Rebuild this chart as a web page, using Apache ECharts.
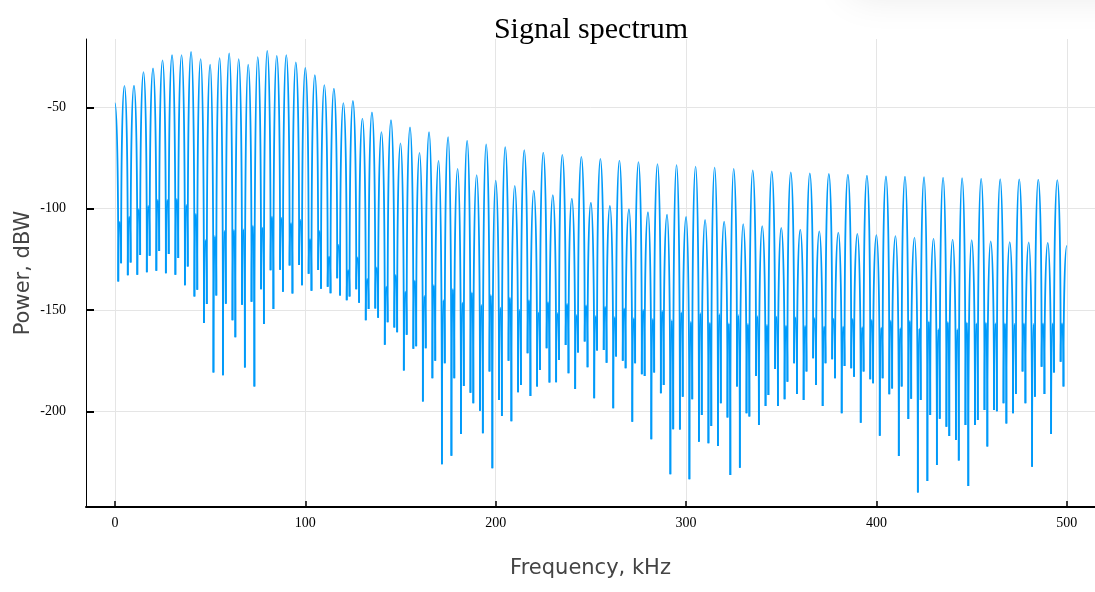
<!DOCTYPE html>
<html>
<head>
<meta charset="utf-8">
<title>Signal spectrum</title>
<script src="https://cdn.jsdelivr.net/npm/echarts@6/dist/echarts.min.js"></script>
<style>
html, body { margin: 0; padding: 0; background: #fff; }
#main { width: 1095px; height: 592px; }
</style>
</head>
<body>
<div id="main"></div>
<script>
// tops of the main lobes, one every 5 kHz from 0 to 500 kHz (dBW)
var peakDb = [
	-48.0, -39.5, -39.3, -32.7, -30.8, -26.8, -24.3, -24.3, -22.7, -26.2,
	-29.0, -25.8, -23.4, -26.3, -29.0, -25.2, -22.2, -24.6, -24.3, -27.8,
	-30.6, -34.1, -39.1, -40.8, -47.9, -46.9, -55.6, -52.5, -62.2, -56.3,
	-67.8, -59.9, -72.5, -62.3, -76.5, -64.7, -80.4, -66.5, -83.5, -68.3,
	-86.2, -69.7, -88.8, -71.2, -91.1, -72.4, -93.3, -73.5, -95.1, -74.5,
	-97.1, -75.5, -98.7, -76.3, -100.2, -77.0, -101.7, -78.0, -103.0, -78.6,
	-104.1, -79.3, -105.5, -79.8, -106.4, -80.4, -107.6, -81.1, -108.6, -81.6,
	-109.5, -82.1, -110.4, -82.6, -111.2, -82.9, -111.9, -83.2, -112.5, -83.7,
	-113.1, -84.1, -113.6, -84.2, -114.3, -84.5, -114.8, -84.7, -115.3, -85.0,
	-115.6, -85.2, -116.1, -85.4, -116.5, -85.6, -116.6, -85.7, -116.9, -85.9,
	-118.4
];

// between lobe k and lobe k+1: first null, small side lobe, second null
var null1Db = [
	-136.0, -132.9, -132.6, -131.4, -130.6, -131.9, -132.6, -137.8, -143.3, -156.4,
	-180.9, -182.2, -155.1, -147.4, -145.9, -139.8, -130.4, -130.1, -128.1, -127.8,
	-132.1, -130.3, -138.5, -134.4, -145.2, -139.8, -155.1, -149.3, -167.1, -158.7,
	-179.8, -169.1, -195.2, -183.7, -226.1, -221.9, -211.2, -190.8, -199.7, -180.4,
	-194.4, -175.0, -190.6, -171.4, -187.8, -168.9, -185.7, -167.3, -189.0, -165.6,
	-193.6, -169.7, -198.5, -175.0, -205.1, -181.7, -213.8, -191.1, -231.1, -209.0,
	-233.5, -215.0, -215.8, -217.1, -203.0, -187.8, -201.0, -182.6, -197.4, -179.1,
	-194.0, -176.3, -194.4, -173.8, -197.4, -174.3, -201.0, -178.8, -205.6, -184.2,
	-212.0, -191.6, -222.0, -203.8, -240.0, -234.4, -226.5, -207.6, -214.1, -206.7,
	-206.7, -199.3, -199.3, -196.0, -201.0, -180.4, -227.3, -178.0, -211.2, -175.5
];
var sideDb = [
	-106.4, -104.0, -100.2, -98.7, -95.7, -95.7, -95.2, -98.2, -102.6, -115.5,
	-113.5, -111.0, -110.5, -110.2, -108.4, -109.4, -104.0, -104.6, -107.1, -105.6,
	-115.0, -111.0, -123.7, -117.9, -130.3, -124.0, -134.7, -129.0, -138.5, -132.7,
	-141.0, -135.5, -143.1, -137.7, -145.1, -139.6, -146.4, -141.3, -147.5, -142.6,
	-148.9, -143.9, -150.0, -145.1, -151.2, -146.1, -151.6, -147.0, -152.5, -147.7,
	-153.0, -148.4, -153.5, -149.2, -154.0, -150.0, -154.4, -150.5, -155.0, -151.2,
	-155.8, -151.6, -156.2, -152.1, -156.6, -152.6, -156.9, -153.0, -157.4, -153.3,
	-157.7, -153.6, -157.9, -154.0, -158.2, -154.3, -158.2, -154.4, -158.5, -154.9,
	-158.7, -155.3, -159.0, -155.4, -159.2, -155.6, -159.5, -155.9, -159.5, -156.1,
	-156.6, -156.2, -156.6, -156.6, -156.9, -156.6, -156.9, -156.6, -156.6, -156.6
];
var null2Db = [
	-127.0, -126.6, -122.9, -123.2, -120.9, -122.4, -124.3, -128.6, -140.0, -147.0,
	-142.9, -146.9, -163.5, -178.4, -187.7, -156.9, -149.5, -141.0, -141.9, -137.8,
	-140.5, -139.5, -141.8, -142.9, -143.4, -146.4, -149.5, -153.8, -156.1, -161.0,
	-162.2, -167.9, -168.9, -175.0, -176.3, -183.7, -187.5, -196.0, -210.8, -228.1,
	-202.3, -204.9, -187.0, -192.4, -179.6, -185.8, -174.7, -181.2, -171.0, -178.3,
	-170.0, -176.0, -173.0, -178.8, -176.3, -182.6, -180.9, -187.0, -208.9, -192.8,
	-194.0, -201.8, -207.2, -196.0, -231.4, -227.8, -202.6, -206.7, -192.0, -197.4,
	-185.4, -191.4, -180.4, -187.0, -176.3, -183.7, -177.6, -182.9, -180.4, -186.2,
	-183.7, -188.7, -187.8, -193.8, -194.4, -201.8, -203.6, -212.2, -224.3, -236.8,
	-204.3, -217.4, -200.0, -206.0, -191.4, -196.0, -192.8, -191.4, -180.9, -187.8
];

var lobeStep = 5;                   // kHz between lobe tops
var gapOffsets = [1.75, 2.5, 3.25]; // kHz after a lobe top: null, side lobe, null
var xTicks = [0, 100, 200, 300, 400, 500];
var yTicks = [-200, -150, -100, -50];

// turning points of the trace, in order
var points = [];
for (var k = 0; k < peakDb.length; k++) {
	var f0 = k * lobeStep;
	points.push([f0, peakDb[k]]);
	if (k < null1Db.length) {
		points.push([f0 + gapOffsets[0], null1Db[k]]);
		points.push([f0 + gapOffsets[1], sideDb[k]]);
		points.push([f0 + gapOffsets[2], null2Db[k]]);
	}
}
// one piece of curve between each pair of neighbouring turning points
var segments = [];
for (var i = 0; i + 1 < points.length; i++) {
	segments.push([points[i][0], points[i][1], points[i + 1][0], points[i + 1][1]]);
}

var LOBE_BEND = 0.6; // how square the lobe shoulders are

// a lobe flank: flat at the top, steep into the null
function renderFlank(params, api) {
	var a = api.coord([api.value(0), api.value(1)]);
	var b = api.coord([api.value(2), api.value(3)]);
	var top = a[1] <= b[1] ? a : b;
	var bot = a[1] <= b[1] ? b : a;
	return {
		type: 'bezierCurve',
		shape: {
			x1: top[0], y1: top[1],
			x2: bot[0], y2: bot[1],
			cpx1: top[0] + LOBE_BEND * (bot[0] - top[0]), cpy1: top[1],
			cpx2: bot[0], cpy2: bot[1] - LOBE_BEND * (bot[1] - top[1])
		},
		style: { fill: null, stroke: '#009af9', lineWidth: 1.8 }
	};
}

var myChart = echarts.init(document.getElementById('main'));

var option = {
	animation: false,
	backgroundColor: '#fff',
	title: {
		text: 'Signal spectrum',
		left: 586,
		top: 10,
		textAlign: 'center',
		textStyle: {
			fontFamily: 'Liberation Serif',
			fontWeight: 'normal',
			fontSize: 30,
			color: '#000'
		}
	},
	graphic: [{
		// faint shadow in the top right corner
		type: 'rect',
		shape: { x: 850, y: -70, width: 310, height: 64, r: 10 },
		style: { fill: '#fff', shadowBlur: 40, shadowColor: 'rgba(0,0,0,0.10)' },
		z: -1
	}],
	grid: {
		left: 86,
		right: 0,
		top: 39,
		bottom: 85
	},
	xAxis: {
		type: 'value',
		min: -15.2,
		max: 514.8,
		name: 'Frequency, kHz',
		nameLocation: 'middle',
		nameGap: 51,
		nameTextStyle: {
			fontFamily: 'DejaVu Sans',
			fontSize: 21,
			color: '#444'
		},
		axisLine: {
			show: true,
			onZero: false,
			lineStyle: { color: '#000', width: 2 }
		},
		axisTick: {
			show: true,
			inside: true,
			length: 6,
			customValues: xTicks,
			lineStyle: { color: '#000', width: 1.5 }
		},
		axisLabel: {
			customValues: xTicks,
			margin: 9,
			fontFamily: 'Liberation Serif',
			fontSize: 14,
			color: '#000'
		},
		splitLine: {
			show: true,
			lineStyle: { color: '#e5e5e5', width: 1 }
		}
	},
	yAxis: {
		type: 'value',
		min: -247.2,
		max: -16.3,
		name: 'Power, dBW',
		nameLocation: 'middle',
		nameGap: 52,
		nameMoveOverlap: false,
		nameTextStyle: {
			fontFamily: 'DejaVu Sans',
			fontSize: 21,
			color: '#444'
		},
		axisLine: {
			show: true,
			onZero: false,
			lineStyle: { color: '#000', width: 1 }
		},
		axisTick: {
			show: true,
			inside: true,
			length: 8,
			customValues: yTicks,
			lineStyle: { color: '#000', width: 2 }
		},
		axisLabel: {
			customValues: yTicks,
			margin: 20,
			fontFamily: 'Liberation Serif',
			fontSize: 14,
			color: '#000'
		},
		splitLine: {
			show: true,
			lineStyle: { color: '#e5e5e5', width: 1 }
		}
	},
	series: [{
		name: 'spectrum',
		type: 'custom',
		renderItem: renderFlank,
		data: segments,
		encode: { x: [0, 2], y: [1, 3] },
		clip: true,
		silent: true
	}]
};

myChart.setOption(option);
</script>
</body>
</html>
